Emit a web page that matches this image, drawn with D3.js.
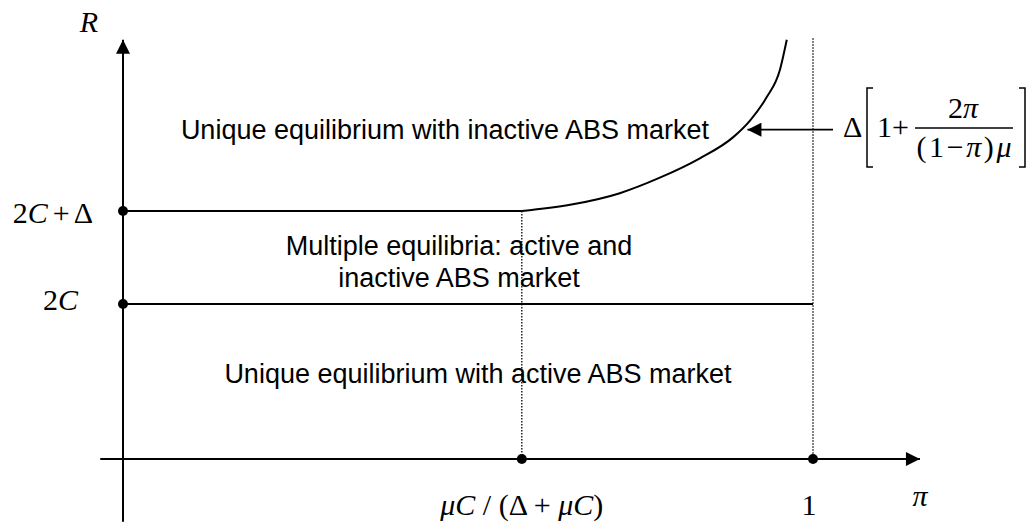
<!DOCTYPE html>
<html>
<head>
<meta charset="utf-8">
<script src="https://cdn.jsdelivr.net/npm/d3@7/dist/d3.min.js"></script>
<style>
  body { margin: 0; background: #fff; }
  .region { font-family: "Liberation Sans", Arial, sans-serif; font-size: 27px; fill: #000; }
  .math { font-family: "Liberation Serif", "Times New Roman", serif; font-size: 30px; fill: #000; }
  .it { font-style: italic; }
</style>
</head>
<body>
<div class="wrapper"></div>
<script>
// values (units: C = 1)
var piThresholds = [0.578, 1];          // muC/(Delta+muC) and 1
var rLevels = [2, 3.2];                  // 2C and 2C + Delta
var curvePi = [0.578, 0.648, 0.720, 0.778, 0.836, 0.884, 0.909, 0.933, 0.952, 0.962];
var curveR  = [3.2, 3.28, 3.43, 3.63, 3.88, 4.15, 4.37, 4.67, 5.02, 5.41];
var regionLabels = [
    ["Unique equilibrium with inactive ABS market"],
    ["Multiple equilibria: active and", "inactive ABS market"],
    ["Unique equilibrium with active ABS market"]
];
var arrowPoint = [0.905, 4.25];          // where the formula arrow hits the curve

var chartView = {
    width: 1035,
    height: 530,
    init: function () {
        this.svg = d3.select(".wrapper")
            .append("svg")
            .attr("width", this.width)
            .attr("height", this.height);
        this.xScale = d3.scaleLinear().domain([0, 1]).range([123, 813]);
        this.yScale = d3.scaleLinear().domain([0, 5.4]).range([459, 40.5]);
        var defs = this.svg.append("defs");
        defs.append("marker")
            .attr("id", "tri")
            .attr("viewBox", "0 0 10 10")
            .attr("refX", 10).attr("refY", 5)
            .attr("markerWidth", 15).attr("markerHeight", 14)
            .attr("markerUnits", "userSpaceOnUse")
            .attr("orient", "auto")
            .append("path")
            .attr("d", "M0,0 L10,5 L0,10 Z")
            .attr("fill", "#000");
    },
    render: function () {
        this.init();
        this.drawAxis();
        this.drawLevels();
        this.drawCurve();
        this.drawLabels();
    },
    drawAxis: function () {
        var x = this.xScale, y = this.yScale, svg = this.svg;
        svg.append("line")
            .attr("x1", x(-0.033)).attr("x2", x(1.155))
            .attr("y1", y(0)).attr("y2", y(0))
            .attr("stroke", "#000").attr("stroke-width", 2)
            .attr("marker-end", "url(#tri)");
        svg.append("line")
            .attr("x1", x(0)).attr("x2", x(0))
            .attr("y1", y(-0.81)).attr("y2", y(5.41))
            .attr("stroke", "#000").attr("stroke-width", 2)
            .attr("marker-end", "url(#tri)");
    },
    drawLevels: function () {
        var x = this.xScale, y = this.yScale, svg = this.svg;
        // dotted verticals
        svg.append("line")
            .attr("x1", x(piThresholds[0])).attr("x2", x(piThresholds[0]))
            .attr("y1", y(rLevels[1])).attr("y2", y(0))
            .attr("stroke", "#000").attr("stroke-width", 1.3)
            .attr("stroke-dasharray", "1.5,1.5");
        svg.append("line")
            .attr("x1", x(piThresholds[1])).attr("x2", x(piThresholds[1]))
            .attr("y1", y(5.43)).attr("y2", y(0))
            .attr("stroke", "#000").attr("stroke-width", 1.3)
            .attr("stroke-dasharray", "1.5,1.5");
        // horizontal levels
        svg.append("line")
            .attr("x1", x(0)).attr("x2", x(piThresholds[0]))
            .attr("y1", y(rLevels[1])).attr("y2", y(rLevels[1]))
            .attr("stroke", "#000").attr("stroke-width", 1.8);
        svg.append("line")
            .attr("x1", x(0)).attr("x2", x(piThresholds[1]))
            .attr("y1", y(rLevels[0])).attr("y2", y(rLevels[0]))
            .attr("stroke", "#000").attr("stroke-width", 1.8);
        // dots
        svg.selectAll(".ydot").data(rLevels).enter()
            .append("circle")
            .attr("cx", x(0)).attr("cy", function (d) { return y(d); })
            .attr("r", 5).attr("fill", "#000");
        svg.selectAll(".xdot").data(piThresholds).enter()
            .append("circle")
            .attr("cx", function (d) { return x(d); }).attr("cy", y(0))
            .attr("r", 5).attr("fill", "#000");
    },
    drawCurve: function () {
        var x = this.xScale, y = this.yScale;
        var pts = curvePi.map(function (p, i) { return [p, curveR[i]]; });
        var line = d3.line()
            .x(function (d) { return x(d[0]); })
            .y(function (d) { return y(d[1]); })
            .curve(d3.curveMonotoneX);
        this.svg.append("path")
            .attr("d", line(pts))
            .attr("fill", "none")
            .attr("stroke", "#000")
            .attr("stroke-width", 2);
        // pointer from formula to curve
        this.svg.append("line")
            .attr("x1", 833).attr("x2", x(arrowPoint[0]))
            .attr("y1", y(arrowPoint[1])).attr("y2", y(arrowPoint[1]))
            .attr("stroke", "#000").attr("stroke-width", 1.8)
            .attr("marker-end", "url(#tri)");
    },
    drawLabels: function () {
        var svg = this.svg, x = this.xScale, y = this.yScale;
        var regionPos = [[445, [139]], [459, [255, 287]], [478, [383]]];
        regionLabels.forEach(function (lines, i) {
            lines.forEach(function (t, j) {
                svg.append("text")
                    .attr("class", "region")
                    .attr("x", regionPos[i][0])
                    .attr("y", regionPos[i][1][j])
                    .attr("text-anchor", "middle")
                    .text(t);
            });
        });

        function mathText(px, py, anchor, parts) {
            var t = svg.append("text")
                .attr("class", "math")
                .attr("x", px).attr("y", py)
                .attr("text-anchor", anchor);
            parts.forEach(function (p) {
                t.append("tspan")
                    .attr("class", p[1] ? "it" : null)
                    .attr("dx", p[2] || null)
                    .text(p[0]);
            });
            return t;
        }
        // axis names
        mathText(89, 32, "middle", [["R", 1]]);
        mathText(920, 506, "middle", [["π", 1]]);
        // y levels
        mathText(93, y(rLevels[1]) + 12, "end", [["2", 0], ["C", 1], ["+", 0, 5], ["Δ", 0, 4]]);
        mathText(78, y(rLevels[0]) + 6, "end", [["2", 0], ["C", 1]]);
        // x thresholds
        mathText(x(piThresholds[0]), 515, "middle",
            [["μC", 1], [" / (Δ + ", 0], ["μC", 1], [")", 0]]);
        mathText(x(piThresholds[1]) - 4, 515, "middle", [["1", 0]]);

        // formula Δ[1 + 2π / ((1−π)μ)]
        mathText(843, 137, "start", [["Δ", 0]]);
        mathText(877, 137, "start", [["1+", 0]]);
        mathText(963, 118, "middle", [["2", 0], ["π", 1]]);
        mathText(964, 157, "middle", [["(1−", 0], ["π", 1], [")", 0], ["μ", 1]])
            .attr("textLength", 95).attr("lengthAdjust", "spacing");
        svg.append("line")
            .attr("x1", 915).attr("x2", 1013)
            .attr("y1", 128).attr("y2", 128)
            .attr("stroke", "#000").attr("stroke-width", 1.5);
        svg.append("path")
            .attr("d", "M873,88 H867 V167 H873")
            .attr("fill", "none").attr("stroke", "#000").attr("stroke-width", 1.5);
        svg.append("path")
            .attr("d", "M1019,88 H1025 V167 H1019")
            .attr("fill", "none").attr("stroke", "#000").attr("stroke-width", 1.5);
    }
};
chartView.render();
</script>
</body>
</html>
